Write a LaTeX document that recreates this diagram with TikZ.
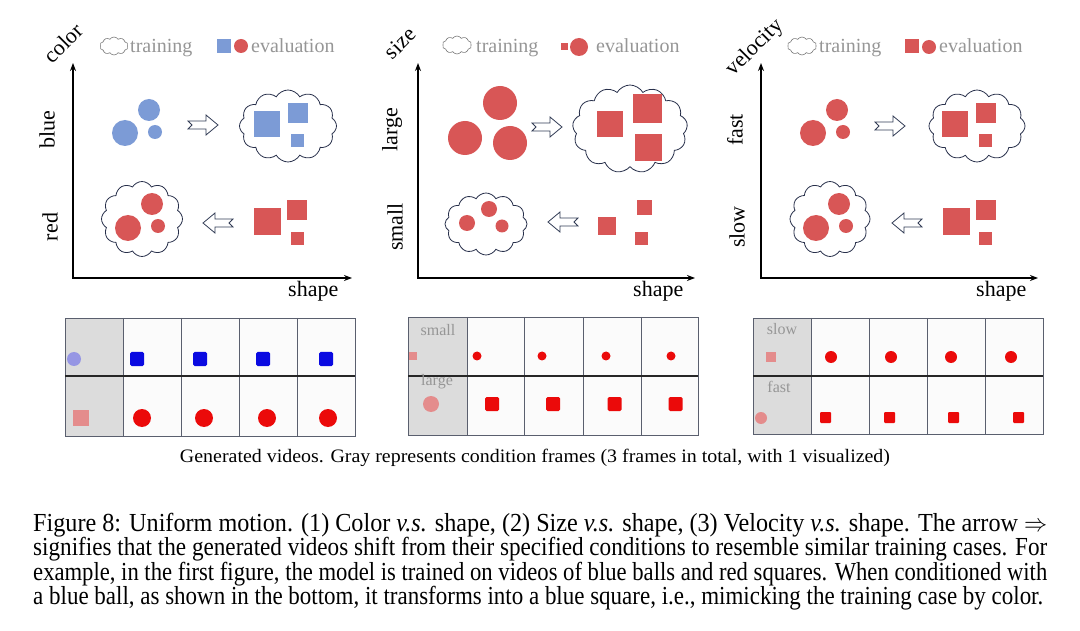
\documentclass[tikz,border=0pt]{standalone}
\usepackage{fontspec}
\setmainfont{Liberation Serif}
\usepackage{graphicx}
\usetikzlibrary{shapes.symbols,arrows.meta}
\definecolor{eblue}{RGB}{124,155,214}
\definecolor{ered}{RGB}{216,86,86}
\definecolor{vblue}{RGB}{10,10,225}
\definecolor{vred}{RGB}{235,10,10}
\definecolor{cpurple}{RGB}{150,150,228}
\definecolor{cpink}{RGB}{228,140,140}
\definecolor{gtext}{RGB}{150,150,150}
\definecolor{cloudc}{RGB}{40,48,75}
\definecolor{arrowc}{RGB}{50,60,85}
\definecolor{gridc}{RGB}{90,95,110}
\definecolor{cellgray}{RGB}{220,220,220}
\definecolor{cellwhite}{RGB}{251,251,251}
\tikzset{
  ball/.style={circle, inner sep=0pt, draw=none},
  sq/.style={rectangle, inner sep=0pt, draw=none},
  tcloud/.style={cloud, draw=cloudc, fill=white, line width=0.8pt, cloud puffs=12, cloud puff arc=120, inner sep=0pt},
  lcloud/.style={cloud, draw=gtext!80!black, fill=white, line width=0.6pt, cloud puffs=10, cloud puff arc=115, inner sep=0pt, minimum width=28pt, minimum height=18pt},
  legend/.style={anchor=base west, inner sep=0pt, text=gtext, font=\fontsize{20}{22}\selectfont},
  axlabel/.style={inner sep=0pt, font=\fontsize{22}{24}\selectfont},
  glabel/.style={inner sep=0pt, text=gtext, font=\fontsize{16}{18}\selectfont},
  axis/.style={line width=1.6pt, line join=miter, {Stealth[length=8pt,width=6pt]}-{Stealth[length=8pt,width=6pt]}},
  gridline/.style={draw=gridc, line width=0.9pt},
  midline/.style={draw=black!85, line width=1.3pt},
  harrow/.pic={\draw[draw=arrowc, fill=white, line width=0.8pt, line join=miter] (-15,-4) -- (3,-4) -- (3,-10) -- (15,0) -- (3,10) -- (3,4) -- (-15,4) -- (-11,0) -- cycle;},
  capline/.style={anchor=base west, inner sep=0pt, font=\fontsize{26}{26}\selectfont}
}
\begin{document}
\begin{tikzpicture}[x=1pt,y=-1pt]
\useasboundingbox[fill=white] (0,0) rectangle (1080,631);

% ================= Panel 1 =================
\node[lcloud] (lc1) at (114,46) {};
\node[legend] (tr1) at (130,53) {training};
\node[sq, fill=eblue, minimum size=14pt] (ls1) at (224,46) {};
\node[ball, fill=ered, minimum size=14pt] (lb1) at (241,46) {};
\node[legend] (ev1) at (251,53) {evaluation};
\node[axlabel, rotate=45] (col) at (63,43) {color};
\coordinate (o1) at (73,278); \coordinate (y1) at (73,63); \coordinate (x1) at (352,278);
\draw[axis] (y1) -- (o1) -- (x1);
\node[axlabel, anchor=base west] (sh1) at (288,297) {shape};
\node[axlabel, rotate=90] (blue) at (47,130) {blue};
\node[axlabel, rotate=90] (red) at (50,227) {red};
\node[ball, fill=eblue, minimum size=26pt] (p1a) at (125,133) {};
\node[ball, fill=eblue, minimum size=22pt] (p1b) at (149,110) {};
\node[ball, fill=eblue, minimum size=14pt] (p1c) at (155,132) {};
\pic at (203,125) {harrow};
\node[tcloud, minimum width=97pt, minimum height=72pt] (c1t) at (288,126) {};
\node[sq, fill=eblue, minimum size=26pt] (s1a) at (266.5,124) {};
\node[sq, fill=eblue, minimum size=20pt] (s1b) at (297.5,113) {};
\node[sq, fill=eblue, minimum size=13pt] (s1c) at (297.5,140.5) {};
\node[tcloud, minimum width=81pt, minimum height=75pt] (c1b) at (142,219) {};
\node[ball, fill=ered, minimum size=26pt] (q1a) at (128,228) {};
\node[ball, fill=ered, minimum size=22pt] (q1b) at (152,204) {};
\node[ball, fill=ered, minimum size=14pt] (q1c) at (158,226) {};
\pic[rotate=180] at (218,223) {harrow};
\node[sq, fill=ered, minimum size=27pt] (r1a) at (267.5,221.5) {};
\node[sq, fill=ered, minimum size=20pt] (r1b) at (297,210.5) {};
\node[sq, fill=ered, minimum size=13pt] (r1c) at (297,238.5) {};

% ================= Panel 2 =================
\node[lcloud, minimum width=29pt] (lc2) at (457,45) {};
\node[legend] (tr2) at (476,53) {training};
\node[sq, fill=ered, minimum size=7pt] (ls2) at (564,46.5) {};
\node[ball, fill=ered, minimum size=18pt] (lb2) at (579,47) {};
\node[legend] (ev2) at (596,53) {evaluation};
\node[axlabel, rotate=45] (size) at (400,43) {size};
\coordinate (o2) at (418,278); \coordinate (y2) at (418,63); \coordinate (x2) at (695,278);
\draw[axis] (y2) -- (o2) -- (x2);
\node[axlabel, anchor=base west] (sh2) at (633,297) {shape};
\node[axlabel, rotate=90] (large) at (392,130) {large};
\node[axlabel, rotate=90] (small) at (395,227) {small};
\node[ball, fill=ered, minimum size=34pt] (p2a) at (500,103) {};
\node[ball, fill=ered, minimum size=34pt] (p2b) at (465,138) {};
\node[ball, fill=ered, minimum size=34pt] (p2c) at (510,143) {};
\pic at (547,127) {harrow};
\node[tcloud, minimum width=115pt, minimum height=88pt, cloud puffs=13] (c2t) at (630,129) {};
\node[sq, fill=ered, minimum size=26pt] (s2a) at (610,124) {};
\node[sq, fill=ered, minimum size=29pt] (s2b) at (647,108.5) {};
\node[sq, fill=ered, minimum size=27pt] (s2c) at (648.5,147.5) {};
\node[tcloud, minimum width=82pt, minimum height=62pt] (c2b) at (486,224) {};
\node[ball, fill=ered, minimum size=16pt] (q2a) at (489,209) {};
\node[ball, fill=ered, minimum size=16pt] (q2b) at (467,223) {};
\node[ball, fill=ered, minimum size=13pt] (q2c) at (502,226) {};
\pic[rotate=180] at (563,222) {harrow};
\node[sq, fill=ered, minimum size=18pt] (r2a) at (607,226) {};
\node[sq, fill=ered, minimum size=15pt] (r2b) at (644.5,208) {};
\node[sq, fill=ered, minimum size=13pt] (r2c) at (641,238.5) {};

% ================= Panel 3 =================
\node[lcloud, minimum width=29pt] (lc3) at (802,46) {};
\node[legend] (tr3) at (819,53) {training};
\node[sq, fill=ered, minimum size=14pt] (ls3) at (912,46) {};
\node[ball, fill=ered, minimum size=14pt] (lb3) at (929,47) {};
\node[legend] (ev3) at (939,53) {evaluation};
\node[axlabel, rotate=45] (vel) at (755,48) {velocity};
\coordinate (o3) at (761,278); \coordinate (y3) at (761,63); \coordinate (x3) at (1038,278);
\draw[axis] (y3) -- (o3) -- (x3);
\node[axlabel, anchor=base west] (sh3) at (976,297) {shape};
\node[axlabel, rotate=90] (fast) at (735,130) {fast};
\node[axlabel, rotate=90] (slow) at (737,227) {slow};
\node[ball, fill=ered, minimum size=26pt] (p3a) at (813,133) {};
\node[ball, fill=ered, minimum size=22pt] (p3b) at (837,110) {};
\node[ball, fill=ered, minimum size=14pt] (p3c) at (843,132) {};
\pic at (890,126) {harrow};
\node[tcloud, minimum width=96pt, minimum height=72pt] (c3t) at (977,126) {};
\node[sq, fill=ered, minimum size=26pt] (s3a) at (954.5,124) {};
\node[sq, fill=ered, minimum size=20pt] (s3b) at (986,113) {};
\node[sq, fill=ered, minimum size=13pt] (s3c) at (985.5,140.5) {};
\node[tcloud, minimum width=80pt, minimum height=75pt] (c3b) at (830,219) {};
\node[ball, fill=ered, minimum size=26pt] (q3a) at (816,228) {};
\node[ball, fill=ered, minimum size=22pt] (q3b) at (839,204) {};
\node[ball, fill=ered, minimum size=14pt] (q3c) at (846,226) {};
\pic[rotate=180] at (907,223) {harrow};
\node[sq, fill=ered, minimum size=27pt] (r3a) at (956,221.5) {};
\node[sq, fill=ered, minimum size=20pt] (r3b) at (985.5,210.5) {};
\node[sq, fill=ered, minimum size=13pt] (r3c) at (985,238.5) {};

% ================= Grid 1 =================
\fill[cellgray] (65,318) rectangle (123,436);
\fill[cellwhite] (123,318) rectangle (355,436);
\foreach \x in {123,181,239,297} \draw[gridline] (\x,318) -- (\x,436);
\draw[gridline] (65,318) rectangle (355,436);
\draw[midline] (65,376) -- (355,376);
\node[ball, fill=cpurple, minimum size=14pt] (g1c) at (74,359) {};
\node[sq, fill=cpink, minimum size=16pt] (g1s) at (81,417.5) {};
\foreach \x/\n in {137/a,200/b,263/c,326/d}{
  \node[sq, fill=vblue, minimum size=14pt, rounded corners=1.5pt] (g1u\n) at (\x,359) {};
}
\node[ball, fill=vred, minimum size=18pt] (g1va) at (142,418) {};
\node[ball, fill=vred, minimum size=18pt] (g1vb) at (204,418) {};
\node[ball, fill=vred, minimum size=18pt] (g1vc) at (267,418) {};
\node[ball, fill=vred, minimum size=18pt] (g1vd) at (328,418) {};

% ================= Grid 2 =================
\fill[cellgray] (408,317) rectangle (467,435);
\fill[cellwhite] (467,317) rectangle (698,435);
\foreach \x in {467,524,583,641} \draw[gridline] (\x,317) -- (\x,435);
\draw[gridline] (408,317) rectangle (698,435);
\draw[midline] (408,376) -- (698,376);
\node[glabel] (gsm) at (438,330) {small};
\node[glabel] (glg) at (437,382) {large};
\node[sq, fill=cpink, minimum size=8pt] (g2s) at (413,356.5) {};
\node[ball, fill=cpink, minimum size=16pt] (g2c) at (431,404) {};
\foreach \x/\n in {477/a,542/b,606/c,671/d}{
  \node[ball, fill=vred, minimum size=9pt] (g2u\n) at (\x,356) {};
}
\foreach \x/\n in {492/a,553/b,614.5/c,675.5/d}{
  \node[sq, fill=vred, minimum size=14pt, rounded corners=1.5pt] (g2v\n) at (\x,404) {};
}

% ================= Grid 3 =================
\fill[cellgray] (753,318) rectangle (811,434);
\fill[cellwhite] (811,318) rectangle (1043,434);
\foreach \x in {811,869,927,985} \draw[gridline] (\x,318) -- (\x,434);
\draw[gridline] (753,318) rectangle (1043,434);
\draw[midline] (753,376) -- (1043,376);
\node[glabel] (gsl) at (782,329) {slow};
\node[glabel] (gfa) at (779,387) {fast};
\node[sq, fill=cpink, minimum size=10pt] (g3s) at (771,357) {};
\node[ball, fill=cpink, minimum size=12pt] (g3c) at (761,418) {};
\foreach \x/\n in {831/a,891/b,951/c,1011/d}{
  \node[ball, fill=vred, minimum size=12pt] (g3u\n) at (\x,357) {};
}
\foreach \x/\n in {825.5/a,889.5/b,953.5/c,1018.5/d}{
  \node[sq, fill=vred, minimum size=11pt, rounded corners=1pt] (g3v\n) at (\x,417.5) {};
}

% ================= Captions =================
\node[anchor=base, inner sep=0pt, font=\fontsize{19}{20}\selectfont, text=black] (gcap) at (535,462)
  {\resizebox{710pt}{\height}{Generated videos. Gray represents condition frames (3 frames in total, with 1 visualized)}};
\node[capline] (cap1) at (33,531) {\resizebox{1014pt}{\height}{Figure 8: Uniform motion. (1) Color \textit{v.s.} shape, (2) Size \textit{v.s.} shape, (3) Velocity \textit{v.s.} shape. The arrow $\Rightarrow$}};
\node[capline] (cap2) at (33,555.5) {\resizebox{1014pt}{\height}{signifies that the generated videos shift from their specified conditions to resemble similar training cases. For}};
\node[capline] (cap3) at (33,580) {\resizebox{1014pt}{\height}{example, in the first figure, the model is trained on videos of blue balls and red squares. When conditioned with}};
\node[capline] (cap4) at (33,604.5) {\resizebox{1010pt}{\height}{a blue ball, as shown in the bottom, it transforms into a blue square, i.e., mimicking the training case by color.}};
\end{tikzpicture}
\end{document}
